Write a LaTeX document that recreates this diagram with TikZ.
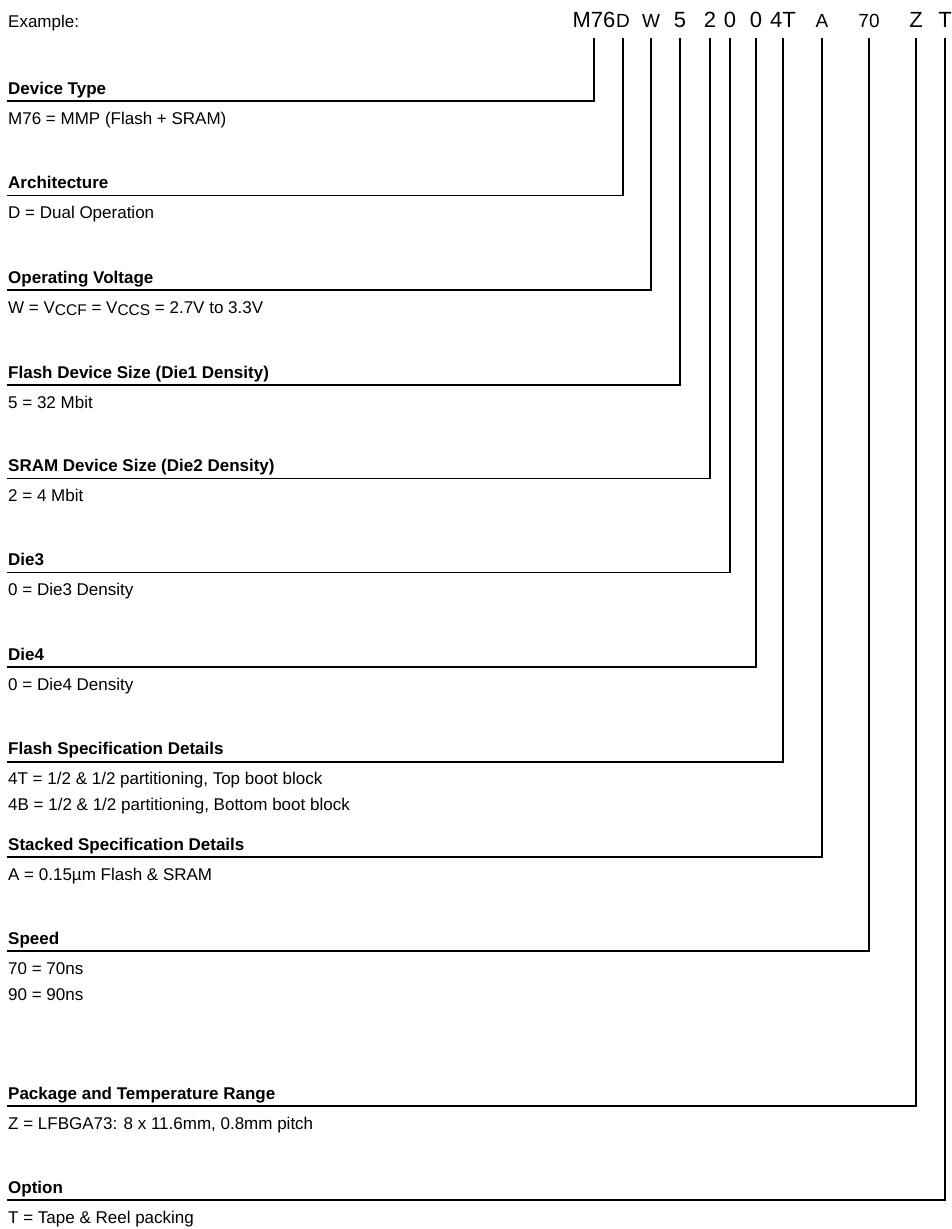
\documentclass[tikz,border=0pt]{standalone}
\usepackage{fontspec}
\setmainfont{Liberation Sans}
\usetikzlibrary{positioning}

\begin{document}
\begin{tikzpicture}[x=1pt, y=-1pt,
  head/.style={font=\fontsize{17}{20}\selectfont\bfseries, anchor=base west, inner sep=0pt},
  val/.style={font=\fontsize{17}{20}\selectfont, anchor=base west, inner sep=0pt},
  bigch/.style={font=\fontsize{22}{24}\selectfont, anchor=base, inner sep=0pt, text depth=0pt, outer ysep=11pt},
  smallch/.style={font=\fontsize{19}{24}\selectfont, anchor=base, inner sep=0pt, text depth=0pt, outer ysep=11pt},
  lead/.style={line width=1.6pt},
]
\useasboundingbox (0,0) rectangle (952,1229);

\node[val] (ex) at (8,27) {Example:};

% part number, one node per field
\node[bigch] (c1) at (594,27) {M76};
\node[smallch] (c2) at (623,27) {D};
\node[smallch] (c3) at (651,27) {W};
\node[bigch] (c4) at (680,27) {5};
\node[bigch] (c5) at (710,27) {2};
\node[bigch] (c6) at (730,27) {0};
\node[bigch] (c7) at (756,27) {0};
\node[bigch] (c8) at (783,27) {4T};
\node[smallch] (c9) at (822,27) {A};
\node[smallch] (c10) at (869,27) {70};
\node[bigch] (c11) at (916,27) {Z};
\node[bigch] (c12) at (945,27) {T};

% fields
\node[head] (h1) at (8,94) {Device Type};
\coordinate (u1) at (7,101);
\node[val] (v1) at (8,124) {M76 = MMP (Flash + SRAM)};

\node[head] (h2) at (8,188.5) {Architecture};
\coordinate (u2) at (7,195.5);
\node[val] (v2) at (8,218.5) {D = Dual Operation};

\node[head] (h3) at (8,283) {Operating Voltage};
\coordinate (u3) at (7,290);
\node[val] (v3) at (8,313) {W = V\raisebox{-0.3ex}{\fontsize{15.5}{15}\selectfont CCF} = V\raisebox{-0.3ex}{\fontsize{15.5}{15}\selectfont CCS} = 2.7V to 3.3V};

\node[head] (h4) at (8,378) {Flash Device Size (Die1 Density)};
\coordinate (u4) at (7,385);
\node[val] (v4) at (8,408) {5 = 32 Mbit};

\node[head] (h5) at (8,471.5) {SRAM Device Size (Die2 Density)};
\coordinate (u5) at (7,478.5);
\node[val] (v5) at (8,501.5) {2 = 4 Mbit};

\node[head] (h6) at (8,565.5) {Die3};
\coordinate (u6) at (7,572.5);
\node[val] (v6) at (8,595.5) {0 = Die3 Density};

\node[head] (h7) at (8,660) {Die4};
\coordinate (u7) at (7,667);
\node[val] (v7) at (8,690) {0 = Die4 Density};

\node[head] (h8) at (8,754.7) {Flash Specification Details};
\coordinate (u8) at (7,761.7);
\node[val] (v8) at (8,784.7) {4T = 1/2 \& 1/2 partitioning, Top boot block};
\node[val] (v8b) at (8,810.7) {4B = 1/2 \& 1/2 partitioning, Bottom boot block};

\node[head] (h9) at (8,850) {Stacked Specification Details};
\coordinate (u9) at (7,857);
\node[val] (v9) at (8,880) {A = 0.15µm Flash \& SRAM};

\node[head] (h10) at (8,944) {Speed};
\coordinate (u10) at (7,951);
\node[val] (v10) at (8,974) {70 = 70ns};
\node[val] (v10b) at (8,1000) {90 = 90ns};

\node[head] (h11) at (8,1099) {Package and Temperature Range};
\coordinate (u11) at (7,1106);
\node[val] (v11) at (8,1129) {Z = LFBGA73: 8 x 11.6mm, 0.8mm pitch};

\node[head] (h12) at (8,1193) {Option};
\coordinate (u12) at (7,1200);
\node[val] (v12) at (8,1223) {T = Tape \& Reel packing};

% leaders
\draw[lead] (u1) -| (c1.south);
\draw[lead] (u2) -| (c2.south);
\draw[lead] (u3) -| (c3.south);
\draw[lead] (u4) -| (c4.south);
\draw[lead] (u5) -| (c5.south);
\draw[lead] (u6) -| (c6.south);
\draw[lead] (u7) -| (c7.south);
\draw[lead] (u8) -| (c8.south);
\draw[lead] (u9) -| (c9.south);
\draw[lead] (u10) -| (c10.south);
\draw[lead] (u11) -| (c11.south);
\draw[lead] (u12) -| (c12.south);
\end{tikzpicture}
\end{document}
